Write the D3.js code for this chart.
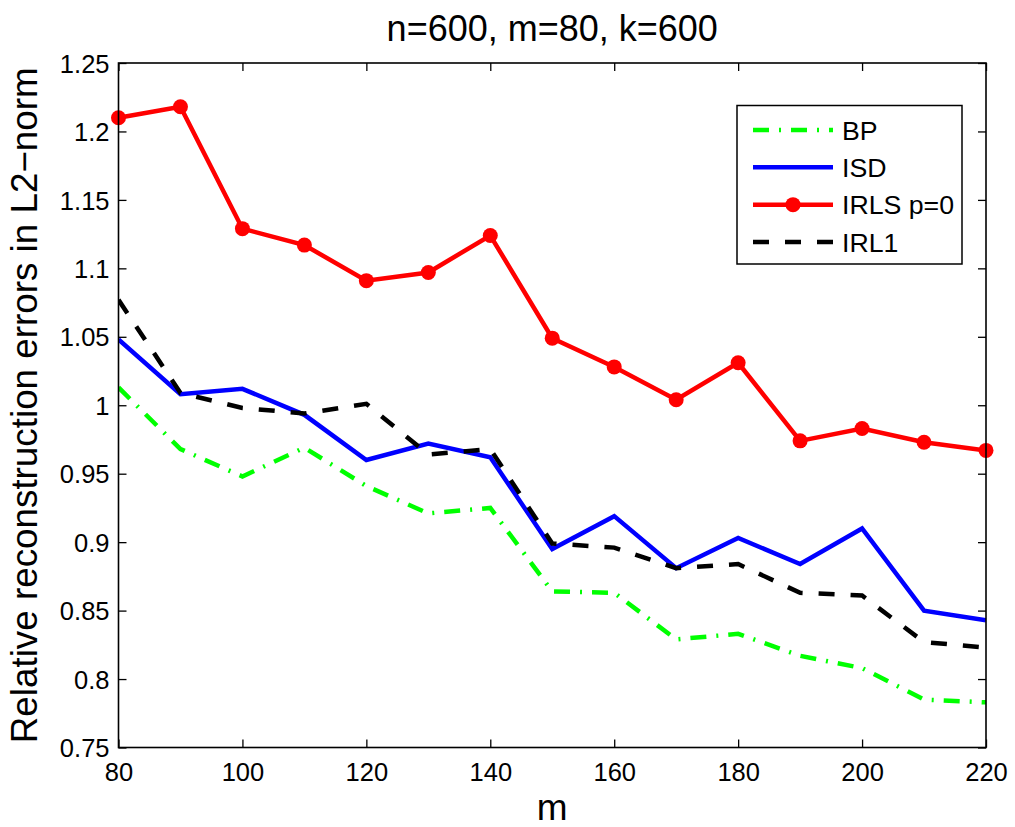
<!DOCTYPE html>
<html>
<head>
<meta charset="utf-8">
<script src="https://cdn.jsdelivr.net/npm/d3@7"></script>
<style>
  html, body { margin: 0; padding: 0; background: #fff; }
  svg { display: block; font-family: "Liberation Sans", Arial, Helvetica, sans-serif; }
</style>
</head>
<body>
<svg id="chart" width="1015" height="827"></svg>
<script>
// ---- data ----
const mValues = [80, 90, 100, 110, 120, 130, 140, 150, 160, 170, 180, 190, 200, 210, 220];
const bpValues   = [1.013, 0.968, 0.948, 0.969, 0.941, 0.921, 0.925, 0.864, 0.863, 0.829, 0.833, 0.817, 0.808, 0.785, 0.783];
const isdValues  = [1.048, 1.008, 1.012, 0.993, 0.960, 0.972, 0.962, 0.895, 0.919, 0.881, 0.903, 0.884, 0.910, 0.850, 0.843];
const irlsValues = [1.210, 1.218, 1.129, 1.117, 1.091, 1.097, 1.124, 1.049, 1.028, 1.004, 1.031, 0.974, 0.983, 0.973, 0.967];
const irl1Values = [1.077, 1.009, 0.998, 0.994, 1.001, 0.964, 0.968, 0.899, 0.896, 0.881, 0.884, 0.863, 0.861, 0.827, 0.823];
const xTicks = [80, 100, 120, 140, 160, 180, 200, 220];
const yTicks = [0.75, 0.8, 0.85, 0.9, 0.95, 1, 1.05, 1.1, 1.15, 1.2, 1.25];
const seriesNames = ["BP", "ISD", "IRLS p=0", "IRL1"];
const titleText = "n=600, m=80, k=600";
const xLabelText = "m";
const yLabelText = "Relative reconstruction errors in L2\u2212norm";

// ---- layout ----
const svg = d3.select("#chart");
const L = 118.5, R = 986, T = 63, B = 747.5;
const x = d3.scaleLinear().domain([80, 220]).range([L, R]);
const y = d3.scaleLinear().domain([0.75, 1.25]).range([B, T]);

const series = [
  { name: seriesNames[0], values: bpValues,   color: "#00ff00", dash: "16,10,2,10", marker: false },
  { name: seriesNames[1], values: isdValues,  color: "#0000ff", dash: null, marker: false },
  { name: seriesNames[2], values: irlsValues, color: "#ff0000", dash: null, marker: true },
  { name: seriesNames[3], values: irl1Values, color: "#000000", dash: "16,16", marker: false }
];

// clip
svg.append("clipPath").attr("id", "clip")
  .append("rect").attr("x", L).attr("y", T).attr("width", R - L).attr("height", B - T);

const line = d3.line().x((d, i) => x(mValues[i])).y(d => y(d));
const plot = svg.append("g").attr("clip-path", "url(#clip)");

series.forEach(s => {
  plot.append("path")
    .datum(s.values)
    .attr("d", line)
    .attr("fill", "none")
    .attr("stroke", s.color)
    .attr("stroke-width", 4.5)
    .attr("stroke-linejoin", "miter")
    .attr("stroke-dasharray", s.dash);
});
// markers
const irls = series[2];
svg.append("g").selectAll("circle")
  .data(irls.values)
  .join("circle")
  .attr("cx", (d, i) => x(mValues[i]))
  .attr("cy", d => y(d))
  .attr("r", 7.5)
  .attr("fill", irls.color);

// axes (ticks inside, mirrored)
const tickLen = 8;
const fmt = d => String(+d.toFixed(2));
const axB = svg.append("g").attr("transform", `translate(0,${B})`)
  .call(d3.axisBottom(x).tickValues(xTicks).tickSize(-tickLen).tickPadding(0).tickFormat(d3.format("d")));
const axT = svg.append("g").attr("transform", `translate(0,${T})`)
  .call(d3.axisTop(x).tickValues(xTicks).tickSize(-tickLen).tickFormat(""));
const axL = svg.append("g").attr("transform", `translate(${L},0)`)
  .call(d3.axisLeft(y).tickValues(yTicks).tickSize(-tickLen).tickPadding(0).tickFormat(fmt));
const axR = svg.append("g").attr("transform", `translate(${R},0)`)
  .call(d3.axisRight(y).tickValues(yTicks).tickSize(-tickLen).tickFormat(""));

[axB, axT, axL, axR].forEach(a => {
  a.select(".domain").remove();
  a.selectAll("line").attr("stroke", "#000").attr("stroke-width", 1.3);
});
axB.selectAll("text").attr("font-size", 25.5).attr("fill", "#000")
  .attr("y", 33).attr("dy", 0);
axL.selectAll("text").attr("font-size", 25.5).attr("fill", "#000")
  .attr("x", -9).attr("dy", "0.36em");

// box
svg.append("rect").attr("x", L).attr("y", T).attr("width", R - L).attr("height", B - T)
  .attr("fill", "none").attr("stroke", "#000").attr("stroke-width", 1.6);

// title and labels
svg.append("text").attr("x", (L + R) / 2).attr("y", 41).attr("text-anchor", "middle")
  .attr("font-size", 36).attr("fill", "#000").text(titleText);
svg.append("text").attr("x", (L + R) / 2).attr("y", 820).attr("text-anchor", "middle")
  .attr("font-size", 37).attr("fill", "#000").text(xLabelText);
svg.append("text").attr("transform", `translate(37,${(T + B) / 2}) rotate(-90)`)
  .attr("text-anchor", "middle").attr("font-size", 36.8).attr("fill", "#000").text(yLabelText);

// legend
const lg = svg.append("g");
lg.append("rect").attr("x", 737).attr("y", 105.5).attr("width", 225).attr("height", 158.5)
  .attr("fill", "#fff").attr("stroke", "#000").attr("stroke-width", 1.5);
const legY = d3.scalePoint().domain(seriesNames).range([130, 242]);
series.forEach(s => {
  const yy = legY(s.name);
  lg.append("line").attr("x1", 753).attr("x2", 833).attr("y1", yy).attr("y2", yy)
    .attr("stroke", s.color).attr("stroke-width", 4.5).attr("stroke-dasharray", s.dash);
  if (s.marker) lg.append("circle").attr("cx", 793).attr("cy", yy).attr("r", 7.5).attr("fill", s.color);
  lg.append("text").attr("x", 842).attr("y", yy).attr("dy", "0.36em")
    .attr("font-size", 26.7).attr("fill", "#000").text(s.name);
});
</script>
</body>
</html>
